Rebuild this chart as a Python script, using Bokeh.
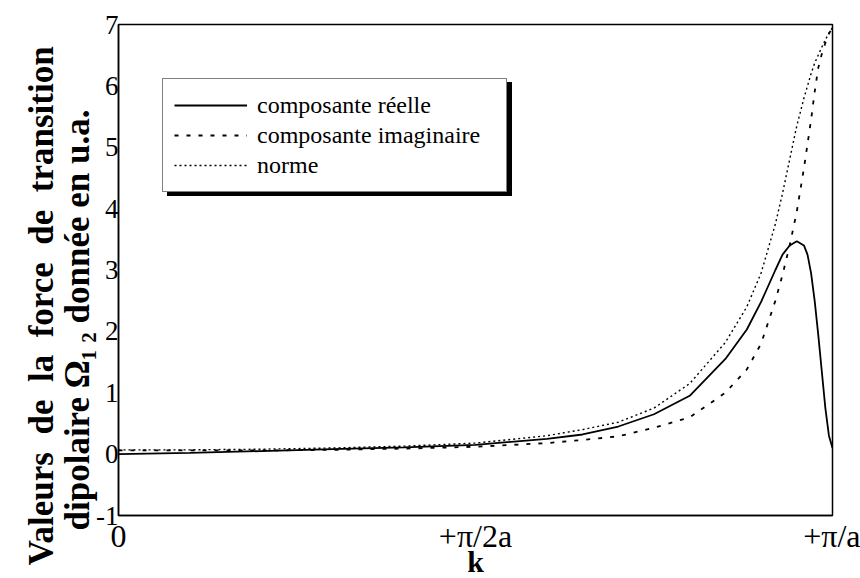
from bokeh.plotting import figure
from bokeh.models import Range1d, FixedTicker, Legend, LegendItem, Title
from bokeh.embed import file_html
from bokeh.resources import INLINE

# k in units of pi/a
k = [0.0, 0.1, 0.2, 0.3, 0.4, 0.5, 0.6, 0.65, 0.7, 0.75, 0.8, 0.85, 0.88, 0.9,
     0.92, 0.93, 0.94, 0.95, 0.96, 0.965, 0.97, 0.975, 0.98, 0.985, 0.99, 0.995, 1.0]
reelle = [0.0, 0.02, 0.05, 0.08, 0.11, 0.15, 0.25, 0.32, 0.45, 0.65, 0.95, 1.55, 2.03, 2.48,
          3.0, 3.25, 3.4, 3.47, 3.4, 3.25, 2.95, 2.5, 1.95, 1.35, 0.75, 0.3, 0.1]
imaginaire = [0.06, 0.06, 0.06, 0.07, 0.09, 0.12, 0.18, 0.23, 0.29, 0.43, 0.6, 1.0, 1.38, 1.8,
              2.5, 2.92, 3.4, 3.95, 4.66, 5.05, 5.45, 5.9, 6.29, 6.52, 6.7, 6.85, 6.95]
norme = [0.07, 0.07, 0.08, 0.1, 0.13, 0.18, 0.3, 0.4, 0.52, 0.75, 1.15, 1.82, 2.4, 2.95,
         3.75, 4.25, 4.8, 5.35, 5.8, 6.0, 6.2, 6.37, 6.5, 6.63, 6.75, 6.86, 6.95]

series_names = ["composante réelle", "composante imaginaire", "norme"]
x_ticks = [0, 0.5, 1]
x_tick_labels = ["0", "+π/2a", "+π/a"]
y_ticks = [-1, 0, 1, 2, 3, 4, 5, 6, 7]
y_tick_labels = ["-1", "0", "1", "2", "3", "4", "5", "6", "7"]

SERIF = "Liberation Serif"

p = figure(width=860, height=578, frame_width=714, frame_height=491,
           min_border_left=118, min_border_right=28, min_border_top=24, min_border_bottom=63,
           x_range=Range1d(0, 1), y_range=Range1d(-1, 7),
           output_backend="svg", toolbar_location=None, tools="")

p.background_fill_color = "white"
p.border_fill_color = "white"
p.grid.visible = False
p.outline_line_color = "black"
p.outline_line_width = 1.5

for ax in (p.xaxis[0], p.yaxis[0]):
    ax.axis_line_color = "black"
    ax.axis_line_width = 1.5
    ax.major_tick_line_color = None
    ax.major_tick_out = 0
    ax.major_tick_in = 0
    ax.minor_tick_line_color = None
    ax.minor_tick_out = 0
    ax.major_label_text_font = SERIF
    ax.major_label_text_color = "black"

p.xaxis.ticker = FixedTicker(ticks=x_ticks)
p.xaxis.major_label_overrides = {t: l for t, l in zip(x_ticks, x_tick_labels)}
p.xaxis.major_label_text_font_size = "32px"
p.xaxis.major_label_standoff = 2
p.xaxis.axis_label = "k"
p.xaxis.axis_label_text_font = SERIF
p.xaxis.axis_label_text_font_style = "bold"
p.xaxis.axis_label_text_font_size = "30px"
p.xaxis.axis_label_text_color = "black"
p.xaxis.axis_label_standoff = -12

p.yaxis.ticker = FixedTicker(ticks=y_ticks)
p.yaxis.major_label_overrides = {t: l for t, l in zip(y_ticks, y_tick_labels)}
p.yaxis.major_label_text_font_size = "27px"
p.yaxis.major_label_standoff = 0

r1 = p.line(k, reelle, line_color="black", line_width=1.8)
r2 = p.line(k, imaginaire, line_color="black", line_width=1.8, line_dash="4 8")
r3 = p.line(k, norme, line_color="black", line_width=1.4, line_dash="2 3")
renderers = [r1, r2, r3]

def make_legend(loc, shadow):
    items = [LegendItem(label=(" " if shadow else name), renderers=[r])
             for name, r in zip(series_names, renderers)]
    lg = Legend(items=items, location=loc, orientation="vertical",
                glyph_width=73, glyph_height=30, label_height=30, label_width=238,
                label_standoff=10, padding=11, spacing=0, margin=0,
                label_text_font=SERIF, label_text_font_size="24px",
                border_line_width=1.5, background_fill_alpha=1.0,
                click_policy="none")
    lg.border_line_color = "black"
    lg.label_text_color = "black"
    lg.background_fill_color = "black" if shadow else "white"
    return lg

# legend (with a black drop shadow) located in pixels from the frame's bottom-left corner
p.add_layout(make_legend((49, 319), True), "center")
p.add_layout(make_legend((44, 323), False), "center")

# y axis title: two rotated lines on the left (inner line added first)
EN = "\u2002"
line2 = Title(text="dipolaire Ω\u2081\u2009\u2082 donnée en u.a.", align="left", offset=-15,
              text_font=SERIF, text_font_style="bold", text_font_size="35px",
              text_color="black", standoff=-6)
line1 = Title(text=EN.join(["Valeurs", "de", "la", "force", "de", "transition"]),
              align="left", offset=-50,
              text_font=SERIF, text_font_style="bold", text_font_size="35px",
              text_color="black", standoff=-4)
p.add_layout(line2, "left")
p.add_layout(line1, "left")

open("out.html", "w").write(file_html(p, INLINE))
